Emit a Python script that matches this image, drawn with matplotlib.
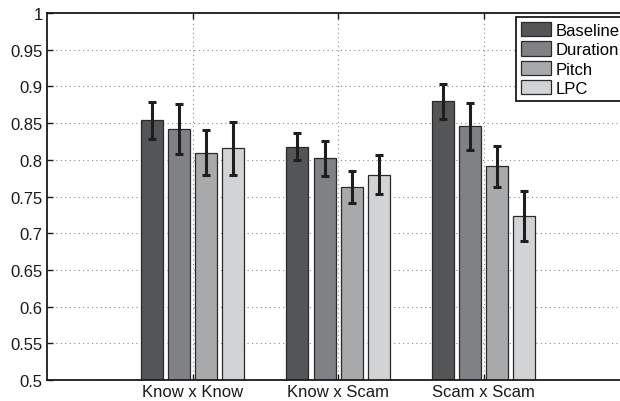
import matplotlib
matplotlib.use('Agg')
import matplotlib.pyplot as plt
import numpy as np

plt.rcParams['font.family'] = ['Liberation Sans', 'DejaVu Sans']

groups = ['Know x Know', 'Know x Scam', 'Scam x Scam']
features = ['Baseline', 'Duration', 'Pitch', 'LPC']
colors = ['#545557', '#808184', '#a8a9ab', '#d2d3d5']

# mean accuracy per feature set, one value per group
baseline = [0.854, 0.818, 0.880]
duration = [0.842, 0.802, 0.846]
pitch = [0.810, 0.763, 0.791]
lpc = [0.816, 0.780, 0.724]

# standard deviation for the error bars
baseline_err = [0.025, 0.018, 0.024]
duration_err = [0.034, 0.024, 0.032]
pitch_err = [0.031, 0.022, 0.028]
lpc_err = [0.036, 0.026, 0.034]

means = [baseline, duration, pitch, lpc]
errs = [baseline_err, duration_err, pitch_err, lpc_err]

yticks = [0.5, 0.55, 0.6, 0.65, 0.7, 0.75, 0.8, 0.85, 0.9, 0.95, 1]

fig = plt.figure(figsize=(6.2, 4.02), dpi=100)
ax = fig.add_axes([0.0758, 0.052, 0.939, 0.913])

x = np.arange(1, len(groups) + 1)
width = 0.151
step = 0.186
offsets = (np.arange(len(features)) - 1.5) * step

for i, feat in enumerate(features):
    ax.bar(x + offsets[i], means[i], width, color=colors[i],
           edgecolor='#2a2a2a', linewidth=0.9, label=feat, zorder=2)
    ax.errorbar(x + offsets[i], means[i], yerr=errs[i], fmt='none',
                ecolor='#1e1e1e', elinewidth=2.2, capsize=2.8,
                capthick=2.2, zorder=3)

ax.set_xlim(0, 4)
ax.set_ylim(0.5, 1)
ax.set_xticks(x)
ax.set_xticklabels(groups, fontsize=12)
ax.set_yticks(yticks)
ax.set_yticklabels(['%g' % t for t in yticks], fontsize=12)

ax.set_axisbelow(True)
ax.grid(True, linestyle=(0, (1, 3)), color='#8a8a8a', linewidth=0.8)
ax.tick_params(direction='in', length=4, width=1, top=True, right=True,
               pad=3, colors='#1a1a1a')
for s in ax.spines.values():
    s.set_linewidth(1.3)
    s.set_color('#1a1a1a')

leg = ax.legend(loc='upper left', bbox_to_anchor=(0.806, 0.989),
                borderaxespad=0, fontsize=12, fancybox=False,
                edgecolor='#1a1a1a', framealpha=1, handlelength=1.8,
                handleheight=0.95, handletextpad=0.25, labelspacing=0.2,
                borderpad=0.3)
leg.get_frame().set_linewidth(1.3)

fig.savefig('out.png', dpi=100)
